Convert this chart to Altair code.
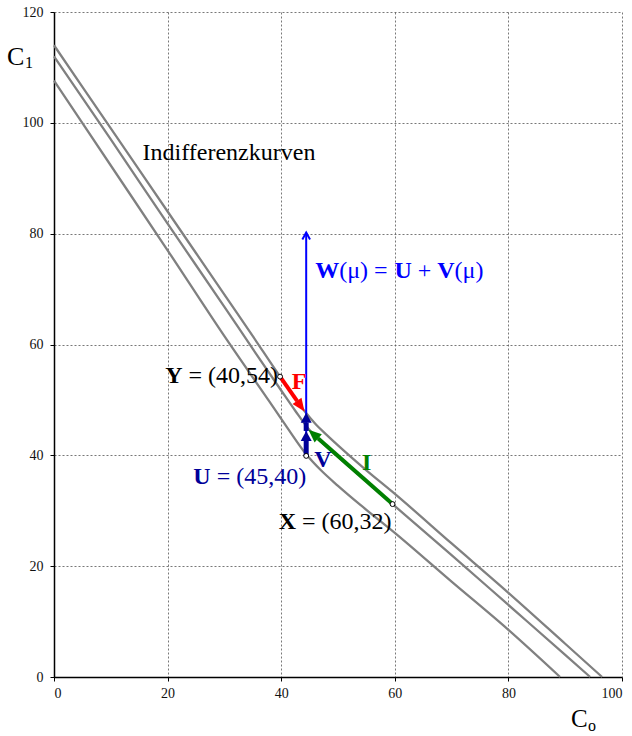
import math
import altair as alt
import pandas as pd

# ---------------- data ----------------
top_x = [0, 10, 20, 30, 35, 39.8, 42, 44.1, 46, 48, 50, 55, 59.6, 70, 80, 90, 96.5]
top_y = [114, 99, 84, 69, 61.5, 54.2, 51.0, 48.0, 45.7, 43.7, 41.8, 37.3, 33.4, 24.1, 15.2, 6, 0]
mid_x = [0, 10, 20, 30, 35, 40, 42.5, 44.8, 47, 49, 52, 59.6, 70, 80, 90, 94.4]
mid_y = [112, 97, 81.8, 66.8, 59.2, 51.7, 48.0, 44.8, 42.5, 40.6, 37.9, 31.2, 22, 13, 4, 0]
low_x = [0, 10, 20, 30, 38, 41, 44.4, 47, 50, 54, 60, 70, 80, 89.1]
low_y = [107.6, 92.3, 77, 61.5, 49.6, 45.1, 40.2, 37.3, 34.5, 31.0, 26.0, 17.2, 8.5, 0]

pt_names = ["Y", "X", "U"]
pt_x = [39.8, 59.6, 44.4]
pt_y = [54.2, 31.2, 39.9]

# arrow end points
f_tip = (44.1, 47.9)      # F: from Y
i_tip = (44.8, 44.6)      # I: from X
v_tips_y = [44.4, 47.7]   # V: from U, two heads
w_tip_y = 80.2            # W(mu): from U

x_ticks = [0, 20, 40, 60, 80, 100]
y_ticks = [0, 20, 40, 60, 80, 100, 120]

# ---------------- layout ----------------
W, H = 568, 665
SX, SY = W / 100.0, H / 120.0
FONT = "Liberation Serif"
NAVY = "#000099"
BLUE = "#0000FF"
RED = "#FF0000"
GREEN = "#008000"

xs = alt.Scale(domain=[0, 100], nice=False, zero=False)
ys = alt.Scale(domain=[0, 120], nice=False, zero=False)
x_axis = alt.Axis(values=x_ticks, title=None, grid=True)
y_axis = alt.Axis(values=y_ticks, title=None, grid=True)


def X(field="x"):
    return alt.X(f"{field}:Q", scale=xs, axis=x_axis)


def Y(field="y"):
    return alt.Y(f"{field}:Q", scale=ys, axis=y_axis)


curves = pd.concat([
    pd.DataFrame({"x": top_x, "y": top_y, "c": "top"}),
    pd.DataFrame({"x": mid_x, "y": mid_y, "c": "mid"}),
    pd.DataFrame({"x": low_x, "y": low_y, "c": "low"}),
])
curves["o"] = range(len(curves))

base = alt.Chart(curves).mark_line(
    color="#808080", strokeWidth=2.3, interpolate="monotone"
).encode(
    x=X(), y=Y(), detail="c:N", order="o:Q",
)


def arrow(x0, y0, x1, y1, head_len):
    dxp = (x1 - x0) * SX
    dyp = -(y1 - y0) * SY
    L = math.hypot(dxp, dyp)
    ux, uy = dxp / L, dyp / L
    xe = x1 - ux * head_len / SX
    ye = y1 + uy * head_len / SY
    ang = math.degrees(math.atan2(ux, -uy)) % 360
    shaft = {"x": x0, "y": y0, "x2": xe, "y2": ye}
    head = {"x": x1, "y": y1, "angle": ang}
    return shaft, head


HEAD_PATH = "M0,0 L-0.42,1 L0.42,1 Z"
V_HEAD_PATH = "M0,0 L-0.55,1 L0.55,1 Z"
CHEVRON = "M-0.55,1 L0,0 L0.55,1"


def arrow_layers(shafts, heads, color, width, head_len, path):
    s = alt.Chart(pd.DataFrame(shafts)).mark_rule(
        color=color, strokeWidth=width, strokeCap="butt"
    ).encode(x=X(), y=Y(), x2="x2:Q", y2="y2:Q")
    h = alt.Chart(pd.DataFrame(heads)).mark_point(
        shape=path, filled=True, color=color, opacity=1, strokeWidth=0,
        size=(2 * head_len) ** 2
    ).encode(x=X(), y=Y(), angle=alt.Angle("angle:Q", scale=None))
    return s + h


# W line (thin blue) with open chevron head
w_shaft = pd.DataFrame([{"x": pt_x[2], "y": pt_y[2], "x2": pt_x[2], "y2": w_tip_y}])
w_line = alt.Chart(w_shaft).mark_rule(color=BLUE, strokeWidth=2).encode(
    x=X(), y=Y(), x2="x2:Q", y2="y2:Q")
w_head = alt.Chart(pd.DataFrame([{"x": pt_x[2], "y": w_tip_y}])).mark_point(
    shape=CHEVRON, filled=False, color=BLUE, strokeWidth=2, opacity=1, size=(2 * 7) ** 2
).encode(x=X(), y=Y())

fs, fh = arrow(pt_x[0], pt_y[0], f_tip[0], f_tip[1], 13)
f_arrow = arrow_layers([fs], [fh], RED, 4, 13, HEAD_PATH)

is_, ih = arrow(pt_x[1], pt_y[1], i_tip[0], i_tip[1], 13)
i_arrow = arrow_layers([is_], [ih], GREEN, 4, 13, HEAD_PATH)

vs1, vh1 = arrow(pt_x[2], pt_y[2], pt_x[2], v_tips_y[0], 10)
vs2, vh2 = arrow(pt_x[2], v_tips_y[0], pt_x[2], v_tips_y[1], 10)
v_arrow = arrow_layers([vs1, vs2], [vh1, vh2], NAVY, 5, 10, V_HEAD_PATH)

pts = alt.Chart(pd.DataFrame({"x": pt_x, "y": pt_y, "n": pt_names})).mark_point(
    shape="circle", filled=True, fill="white", stroke="black", strokeWidth=1,
    size=24, opacity=1
).encode(x=X(), y=Y())


def label(ax, ay, text, dx, dy, align="left", bold=False, color="black", size=24):
    return alt.Chart(pd.DataFrame({"x": [ax], "y": [ay]})).mark_text(
        text=text, font=FONT, fontSize=size, fontWeight="bold" if bold else "normal",
        color=color, align=align, baseline="alphabetic", dx=dx, dy=dy
    ).encode(x=X(), y=Y())


labels = []
# Y = (40,54)
labels.append(label(pt_x[0], pt_y[0], "= (40,54)", -2, 6, align="right"))
labels.append(label(pt_x[0], pt_y[0], "Y", -97.5, 6, align="right", bold=True))
# X = (60,32)
labels.append(label(pt_x[1], pt_y[1], "= (60,32)", -1, 25, align="right"))
labels.append(label(pt_x[1], pt_y[1], "X", -96.5, 25, align="right", bold=True))
# U = (45,40)
labels.append(label(pt_x[2], pt_y[2], "= (45,40)", 0, 28, align="right", color=NAVY))
labels.append(label(pt_x[2], pt_y[2], "U", -95.5, 28, align="right", bold=True, color=NAVY))
# F, V, I
labels.append(label(pt_x[0], pt_y[0], "F", 11.6, 12.6, bold=True, color=RED))
labels.append(label(pt_x[2], pt_y[2], "V", 8, 11, bold=True, color=NAVY))
labels.append(label(pt_x[1], pt_y[1], "I", -30.6, -34.3, bold=True, color=GREEN))
# W(mu) = U + V(mu)
wy = 45.6
for txt, dx, b in [("W", 9, True), ("(\u03bc) =", 33, False), ("U", 88.3, True),
                   ("+", 111.6, False), ("V", 131.1, True), ("(\u03bc)", 148.4, False)]:
    labels.append(label(pt_x[2], w_tip_y, txt, dx, wy, bold=b, color=BLUE))
# Indifferenzkurven
labels.append(label(15.6, 93.3, "Indifferenzkurven", 0, 0))


def pix_text(text, px, py, size):
    return alt.Chart(pd.DataFrame({"a": [0]})).mark_text(
        text=text, font=FONT, fontSize=size, color="black", align="left",
        baseline="alphabetic"
    ).encode(x=alt.value(px), y=alt.value(py))


titles = [
    pix_text("C", -47, 53, 26),
    pix_text("1", -29, 56, 16),
    pix_text("C", 517, 715, 25),
    pix_text("o", 534, 719, 16),
]

chart = alt.layer(
    base, w_line, w_head, f_arrow, i_arrow, v_arrow, pts, *labels, *titles
).properties(
    width=W, height=H,
    autosize=alt.AutoSizeParams(type="none"),
    padding={"left": 54, "top": 12, "right": 10, "bottom": 59},
).configure_view(stroke=None).configure_axis(
    domainColor="black", domainWidth=1.5, tickColor="black", tickSize=4,
    labelFont=FONT, labelFontSize=14, labelColor="#111111",
    gridColor="#555555", gridDash=[2, 2], gridWidth=0.8,
).configure_axisX(labelPadding=5).configure_axisY(labelPadding=7)

chart.save("out.html", embed_options={"renderer": "svg", "actions": False})
